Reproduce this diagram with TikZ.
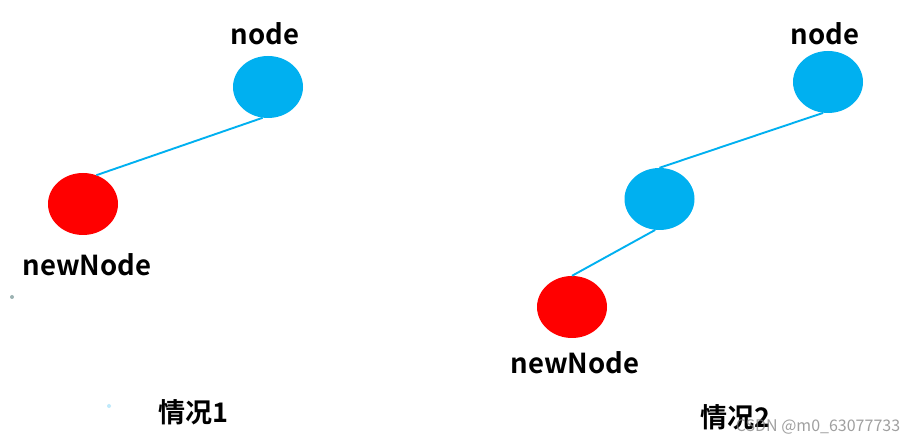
\documentclass[tikz,border=0pt]{standalone}
\usepackage{fontspec}
\setmainfont{Noto Sans CJK SC}[BoldFont={* Bold}]
\usetikzlibrary{shapes.geometric}
\definecolor{nblue}{HTML}{00B0F0}
\definecolor{nred}{HTML}{FF0000}
\tikzset{
  bluenode/.style={ellipse, fill=nblue, minimum width=70pt, minimum height=62pt, inner sep=0pt},
  rednode/.style={ellipse, fill=nred, minimum width=70pt, minimum height=62pt, inner sep=0pt},
  linkline/.style={draw=nblue, line width=1.9pt},
  lbltxt/.style={font=\fontsize{27.5pt}{29pt}\selectfont\bfseries, inner sep=0pt, anchor=center},
  captxt/.style={font=\fontsize{27pt}{29pt}\selectfont\bfseries, inner sep=0pt, anchor=center},
  speck/.style={circle, inner sep=0pt, minimum size=4pt}
}
\begin{document}
\begin{tikzpicture}[x=1pt,y=-1pt]
\useasboundingbox (0,0) rectangle (922,446);
\fill[white] (0,0) rectangle (922,446);
% left
\node[bluenode] (n1) at (268,87) {};
\node[rednode] (r1) at (83,204) {};
\draw[linkline] (n1.260) -- (r1.65);
\node[lbltxt] (n1l) at (265,34) {node};
\node[lbltxt] (r1l) at (87,265) {newNode};
\node[captxt] (c1) at (193,412) {情况1};
\node[speck, fill=gray!70!teal!60] (s1) at (12,297) {};
\node[speck, fill=cyan!25] (s2) at (109,406) {};
% right
\node[bluenode] (n2) at (828,82) {};
\node[bluenode] (m2) at (659.5,199) {};
\node[rednode] (r2) at (572,307) {};
\draw[linkline] (n2.261) -- (m2.90);
\draw[linkline] (m2.262) -- (r2.90);
\node[lbltxt] (n2l) at (825,34) {node};
\node[lbltxt] (r2l) at (575,363) {newNode};
\node[captxt] (c2) at (735,417) {情况2};
\node[font=\fontsize{16pt}{18pt}\selectfont, text=gray, opacity=0.75, inner sep=0pt] (wm) at (818,427) {CSDN @m0\_63077733};
\end{tikzpicture}
\end{document}
